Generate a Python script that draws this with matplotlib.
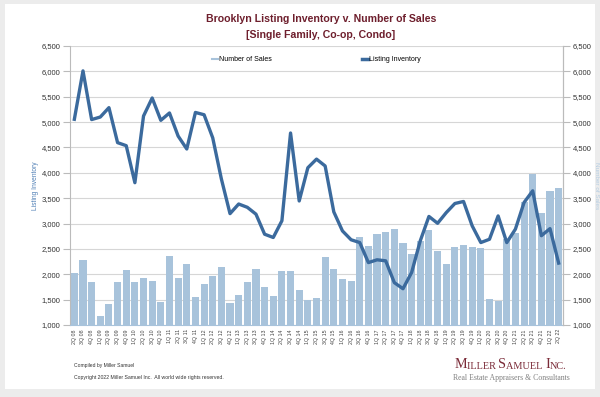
import matplotlib.pyplot as plt
from matplotlib.lines import Line2D
from matplotlib.patches import Rectangle

plt.rcParams['font.family'] = ['Liberation Sans', 'DejaVu Sans']

# quarter labels 2Q 08 .. 2Q 22
quarters = []
for yr in range(8, 23):
    for q in range(1, 5):
        if (yr == 8 and q < 2) or (yr == 22 and q > 2):
            continue
        quarters.append(f"{q}Q {yr:02d}")

sales = [2030, 2290, 1840, 1180, 1415, 1840, 2080, 1850, 1920, 1870,
         1455, 2360, 1930, 2205, 1555, 1800, 1975, 2150, 1430, 1595,
         1845, 2105, 1740, 1570, 2065, 2065, 1685, 1495, 1540, 2350,
         2100, 1900, 1875, 2725, 2565, 2785, 2830, 2900, 2610, 2395,
         2660, 2880, 2460, 2205, 2545, 2580, 2535, 2515, 1520, 1475,
         2695, 2820, 3415, 3975, 3205, 3645, 3710]

inventory = [5055, 6010, 5050, 5100, 5285, 4595, 4535, 3805, 5120, 5475,
             5035, 5180, 4725, 4470, 5190, 5145, 4690, 3880, 3195, 3385,
             3320, 3185, 2790, 2725, 3055, 4785, 3445, 4100, 4270, 4135,
             3230, 2855, 2680, 2625, 2230, 2285, 2265, 1835, 1715, 2035,
             2660, 3140, 3005, 3215, 3395, 3435, 2955, 2625, 2690, 3150,
             2625, 2890, 3415, 3645, 2760, 2900, 2220]

bar_color = "#a8c3db"
line_color = "#3b6a9d"
maroon = "#6e1f2d"

fig = plt.figure(figsize=(6, 3.97), dpi=100, facecolor="#ececec")
fig.patches.append(Rectangle((0.008, 0.02), 0.984, 0.97, transform=fig.transFigure,
                             facecolor="white", edgecolor="none", zorder=-10))

ax = fig.add_axes([0.1167, 0.1814, 0.8216, 0.7027])
ax.set_facecolor("white")
x = list(range(len(quarters)))
ax.bar(x, sales, width=0.82, color=bar_color, zorder=2)
ax.plot(x, inventory, color=line_color, linewidth=2.4, zorder=3, solid_joinstyle="round")

ticks = list(range(1000, 6501, 500))
ax.set_xlim(-0.5, len(quarters) - 0.5)
ax.set_ylim(1000, 6500)
ax.set_yticks(ticks)
ax.set_yticklabels([f"{v:,}" for v in ticks], fontsize=5.5, color="#333333")
ax.grid(axis="y", color="#d6d6d6", linewidth=0.8, zorder=0)
ax.set_axisbelow(True)
ax.set_xticks(x)
ax.set_xticklabels(quarters, rotation=90, fontsize=3.8, color="#444444")
ax.tick_params(axis="x", length=0, pad=3)
ax.tick_params(axis="y", length=5, color="#bbbbbb", pad=2)
ax.spines["top"].set_visible(False)
ax.spines["left"].set_color("#bbbbbb")
ax.spines["right"].set_color("#bbbbbb")
ax.spines["bottom"].set_color("#a8c3db")
ax.set_ylabel("Listing Inventory", fontsize=4.8, color="#4f7fb5")
ax.yaxis.set_label_coords(-0.063, 0.5)

ax2 = ax.twinx()
ax2.set_ylim(1000, 6500)
ax2.set_yticks(ticks)
ax2.set_yticklabels([f"{v:,}" for v in ticks], fontsize=5.5, color="#333333")
ax2.tick_params(axis="y", length=5, color="#bbbbbb", pad=2)
for s in ["top", "left", "bottom"]:
    ax2.spines[s].set_visible(False)
ax2.spines["right"].set_color("#bbbbbb")
ax2.set_ylabel("Number of Sales", fontsize=4.6, color="#b5cde2", rotation=270, va="center")
ax2.yaxis.set_label_coords(1.067, 0.5)

handles = [Line2D([0], [0], color=bar_color, linewidth=1.5),
           Line2D([0], [0], color=line_color, linewidth=2.5)]
ax.legend(handles, ["Number of Sales", "Listing Inventory"], loc="upper center",
          bbox_to_anchor=(0.5, 0.985), ncol=2, frameon=False, fontsize=5,
          handlelength=0.9, handletextpad=0.1, columnspacing=13)

fig.text(0.535, 0.951, "Brooklyn Listing Inventory v. Number of Sales", ha="center",
         va="center", fontsize=7.6, fontweight="bold", color=maroon)
fig.text(0.535, 0.913, "[Single Family, Co-op, Condo]", ha="center",
         va="center", fontsize=7.6, fontweight="bold", color=maroon)

fig.text(0.123, 0.08, "Compiled by Miller Samuel", fontsize=3.6, color="#333333", va="center")
fig.text(0.123, 0.05, "Copyright 2022 Miller Samuel Inc.  All world wide rights reserved.",
         fontsize=3.7, color="#333333", va="center")

# small caps logo
logo_color = "#7b2b38"
parts = [("M", 10.2), ("ILLER ", 7.4), ("S", 10.2), ("AMUEL ", 7.4), ("I", 10.2), ("NC.", 7.4)]
prev = fig.text(0.757, 0.066, parts[0][0], fontsize=parts[0][1], color=logo_color,
                family="Liberation Serif", va="bottom")
for txt, sz in parts[1:]:
    prev = ax.annotate(txt, xy=(1, 0), xycoords=prev, va="bottom", ha="left",
                       fontsize=sz, color=logo_color, family="Liberation Serif",
                       annotation_clip=False)
fig.text(0.755, 0.047, "Real Estate Appraisers & Consultants", fontsize=5.6,
         color="#808080", family="Liberation Serif", va="center")

fig.savefig("out.png", dpi=100, facecolor=fig.get_facecolor())
